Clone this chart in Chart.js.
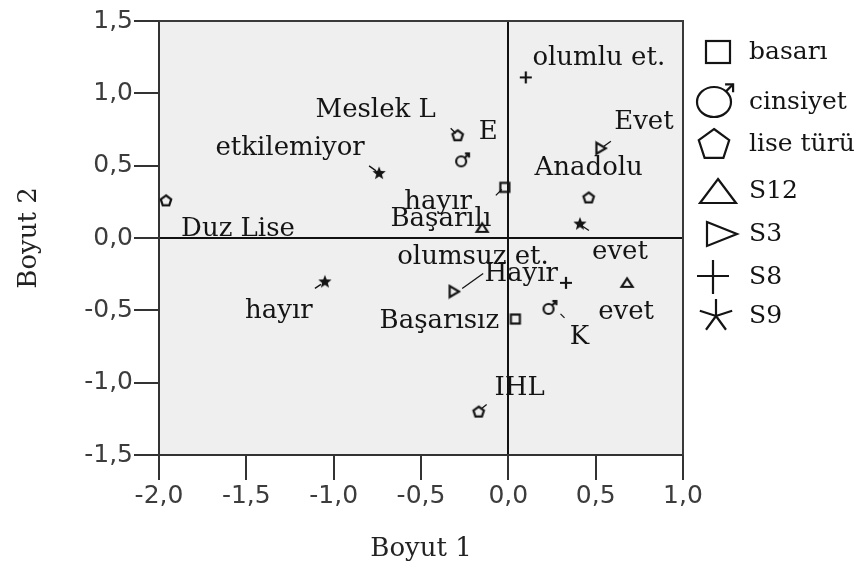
<!DOCTYPE html>
<html>
<head>
<meta charset="utf-8">
<script src="https://cdn.jsdelivr.net/npm/chart.js@4.4.1/dist/chart.umd.min.js"></script>
<style>
  html, body { margin: 0; padding: 0; background: #ffffff; }
  #wrap { width: 864px; height: 567px; }
</style>
</head>
<body>
<div id="wrap"><canvas id="c" width="864" height="567"></canvas></div>
<script>
// Category points (Boyut 1, Boyut 2) for each variable
const basariCats = ['Başarılı', 'Başarısız'];
const basariX = [-0.02, 0.04];
const basariY = [0.35, -0.56];

const cinsiyetCats = ['E', 'K'];
const cinsiyetX = [-0.27, 0.23];
const cinsiyetY = [0.53, -0.49];

const liseCats = ['Meslek L', 'Duz Lise', 'Anadolu', 'IHL'];
const liseX = [-0.29, -1.96, 0.46, -0.17];
const liseY = [0.71, 0.26, 0.28, -1.20];

const s12Cats = ['hayır', 'evet'];
const s12X = [-0.15, 0.68];
const s12Y = [0.07, -0.31];

const s3Cats = ['Evet', 'Hayır'];
const s3X = [0.53, -0.31];
const s3Y = [0.62, -0.37];

const s8Cats = ['olumlu et.', 'olumsuz et.'];
const s8X = [0.10, 0.33];
const s8Y = [1.11, -0.31];

const s9Cats = ['etkilemiyor', 'hayır', 'evet'];
const s9X = [-0.74, -1.05, 0.41];
const s9Y = [0.45, -0.30, 0.10];

const seriesNames = ['basarı', 'cinsiyet', 'lise türü', 'S12', 'S3', 'S8', 'S9'];
const xTickValues = [-2.0, -1.5, -1.0, -0.5, 0.0, 0.5, 1.0];
const yTickValues = [-1.5, -1.0, -0.5, 0.0, 0.5, 1.0, 1.5];

// Label placement: text centre offset from the marker (px) and optional leader line
const labelOffsets = [
  [[-64, 32], [-76, 2]],
  [[27, -29], [31, 28]],
  [[-82, -25], [72, 29], [0, -29], [41, -23]],
  [[-44, -26], [-1, 29]],
  [[43, -26], [67, -17]],
  [[73, -19], [-93, -26]],
  [[-89, -25], [-46, 30], [40, 29]]
];
const leaderLines = [
  [[-9, 8, -3, 2], null],
  [null, [12, 5, 16, 9]],
  [[-7, -7, -2, -2], null, null, [3, -3, 8, -7]],
  [null, null],
  [[3, -2, 10, -7], [8, -3, 29, -18]],
  [null, null],
  [[-10, -7, -3, -2], [-10, 7, -4, 3], [3, 3, 9, 7]]
];

const INK = '#141414';
const SERIF = '"DejaVu Serif", "Liberation Serif", serif';
const SANS = '"DejaVu Sans", Verdana, sans-serif';

function makeCanvas(w, h, draw) {
  const c = document.createElement('canvas');
  c.width = w; c.height = h;
  const g = c.getContext('2d');
  g.strokeStyle = INK; g.fillStyle = INK;
  g.lineJoin = 'miter'; g.lineCap = 'butt';
  draw(g, w, h);
  return c;
}
function polygon(g, cx, cy, r, n, start) {
  g.beginPath();
  for (let i = 0; i < n; i++) {
    const a = start + i * 2 * Math.PI / n;
    const px = cx + r * Math.cos(a), py = cy + r * Math.sin(a);
    if (i === 0) g.moveTo(px, py); else g.lineTo(px, py);
  }
  g.closePath();
}
function maleSymbol(g, cx, cy, rx, ry, len, head, lw) {
  g.lineWidth = lw;
  g.beginPath(); g.ellipse(cx, cy, rx, ry, 0, 0, 2 * Math.PI); g.stroke();
  const a = -Math.PI / 4;
  const sx = cx + rx * Math.cos(a), sy = cy + ry * Math.sin(a);
  const ex = sx + len * Math.cos(a), ey = sy + len * Math.sin(a);
  g.beginPath(); g.moveTo(sx, sy); g.lineTo(ex, ey); g.stroke();
  g.beginPath(); g.moveTo(ex - head, ey); g.lineTo(ex, ey); g.lineTo(ex, ey + head); g.stroke();
}

// Small markers drawn inside the plot
const markSmall = [
  makeCanvas(14, 14, g => { g.lineWidth = 2.2; g.strokeRect(2.5, 2.5, 9, 9); }),
  makeCanvas(24, 24, g => maleSymbol(g, 12, 12, 5, 5, 6, 4, 2.2)),
  makeCanvas(16, 16, g => { g.lineWidth = 2.2; polygon(g, 8, 8.5, 5.5, 5, -Math.PI / 2); g.stroke(); }),
  makeCanvas(16, 14, g => { g.lineWidth = 2.2; g.beginPath(); g.moveTo(8, 2.5); g.lineTo(13.5, 11); g.lineTo(2.5, 11); g.closePath(); g.stroke(); }),
  makeCanvas(14, 16, g => { g.lineWidth = 2.2; g.beginPath(); g.moveTo(2.5, 2.5); g.lineTo(12, 8); g.lineTo(2.5, 13.5); g.closePath(); g.stroke(); }),
  makeCanvas(16, 16, g => { g.lineWidth = 2.2; g.beginPath(); g.moveTo(2, 8); g.lineTo(14, 8); g.moveTo(8, 2); g.lineTo(8, 14); g.stroke(); }),
  makeCanvas(16, 16, g => {
    g.beginPath();
    for (let i = 0; i < 10; i++) {
      const r = i % 2 === 0 ? 7 : 3;
      const a = -Math.PI / 2 + i * Math.PI / 5;
      const px = 8 + r * Math.cos(a), py = 8.5 + r * Math.sin(a);
      if (i === 0) g.moveTo(px, py); else g.lineTo(px, py);
    }
    g.closePath(); g.fill();
  })
];

// Large markers for the key on the right
const markLarge = [
  makeCanvas(30, 28, g => { g.lineWidth = 2.2; g.strokeRect(3, 3, 24, 22); }),
  makeCanvas(60, 60, g => maleSymbol(g, 26, 34, 17, 15, 10, 8, 2.2)),
  makeCanvas(38, 38, g => { g.lineWidth = 2.2; polygon(g, 19, 20, 16, 5, -Math.PI / 2); g.stroke(); }),
  makeCanvas(42, 30, g => { g.lineWidth = 2.2; g.beginPath(); g.moveTo(21, 3); g.lineTo(39, 27); g.lineTo(3, 27); g.closePath(); g.stroke(); }),
  makeCanvas(36, 30, g => { g.lineWidth = 2.2; g.beginPath(); g.moveTo(3, 3); g.lineTo(33, 15); g.lineTo(3, 27); g.closePath(); g.stroke(); }),
  makeCanvas(36, 36, g => { g.lineWidth = 2.2; g.beginPath(); g.moveTo(2, 17); g.lineTo(34, 17); g.moveTo(18, 1); g.lineTo(18, 35); g.stroke(); }),
  makeCanvas(38, 38, g => {
    g.lineWidth = 2.2; g.beginPath();
    for (let i = 0; i < 5; i++) {
      const a = -Math.PI / 2 + i * 2 * Math.PI / 5;
      g.moveTo(19, 19); g.lineTo(19 + 17 * Math.cos(a), 19 + 17 * Math.sin(a));
    }
    g.stroke();
  })
];

function pts(xs, ys) { return xs.map((x, i) => ({ x: x, y: ys[i] })); }
const seriesX = [basariX, cinsiyetX, liseX, s12X, s3X, s8X, s9X];
const seriesY = [basariY, cinsiyetY, liseY, s12Y, s3Y, s8Y, s9Y];
const seriesCats = [basariCats, cinsiyetCats, liseCats, s12Cats, s3Cats, s8Cats, s9Cats];

const datasets = seriesNames.map((name, i) => ({
  label: name,
  data: pts(seriesX[i], seriesY[i]),
  pointStyle: markSmall[i],
  pointRadius: 6,
  pointHoverRadius: 6,
  showLine: false
}));

const fmt = v => v.toFixed(1).replace('.', ',');

// Grey plot panel with a frame
const panelPlugin = {
  id: 'panel',
  beforeDraw(chart) {
    const { ctx, chartArea: a } = chart;
    ctx.save();
    ctx.fillStyle = '#efefef';
    ctx.fillRect(a.left, a.top, a.right - a.left, a.bottom - a.top);
    ctx.restore();
  },
  afterDraw(chart) {
    const { ctx, chartArea: a } = chart;
    ctx.save();
    ctx.strokeStyle = '#3a3a3a';
    ctx.lineWidth = 2;
    ctx.beginPath();
    ctx.moveTo(a.left, a.top); ctx.lineTo(a.right, a.top); ctx.lineTo(a.right, a.bottom);
    ctx.stroke();
    ctx.restore();
  }
};

// Category names beside each marker
const labelPlugin = {
  id: 'catLabels',
  afterDatasetsDraw(chart) {
    const { ctx } = chart;
    const xs = chart.scales.x, ys = chart.scales.y;
    ctx.save();
    ctx.font = '26px ' + SERIF;
    ctx.fillStyle = INK;
    ctx.strokeStyle = INK;
    ctx.lineWidth = 1.3;
    ctx.textAlign = 'center';
    ctx.textBaseline = 'middle';
    chart.data.datasets.forEach((ds, di) => {
      ds.data.forEach((p, pi) => {
        const px = xs.getPixelForValue(p.x), py = ys.getPixelForValue(p.y);
        const ld = leaderLines[di][pi];
        if (ld) {
          ctx.beginPath();
          ctx.moveTo(px + ld[0], py + ld[1]);
          ctx.lineTo(px + ld[2], py + ld[3]);
          ctx.stroke();
        }
        const off = labelOffsets[di][pi];
        ctx.fillText(seriesCats[di][pi], px + off[0], py + off[1]);
      });
    });
    ctx.restore();
  }
};

// Key of marker shapes on the right
const keyRows = [52, 102, 144, 191, 234, 277, 316];
const keyMarkX = [718, 714, 714, 718, 722, 713, 716];
const keyPlugin = {
  id: 'shapeKey',
  afterDraw(chart) {
    const { ctx } = chart;
    ctx.save();
    ctx.font = '25px ' + SERIF;
    ctx.fillStyle = INK;
    ctx.textAlign = 'left';
    ctx.textBaseline = 'middle';
    chart.data.datasets.forEach((ds, i) => {
      const m = markLarge[i];
      const cx = keyMarkX[i], cy = keyRows[i];
      if (i === 1) { ctx.drawImage(m, cx - 26, cy - 34); }
      else { ctx.drawImage(m, Math.round(cx - m.width / 2), Math.round(cy - m.height / 2)); }
      ctx.fillText(ds.label, 749, cy);
    });
    ctx.restore();
  }
};

const axisCommon = (ticksList, title, titlePad) => ({
  type: 'linear',
  min: ticksList[0],
  max: ticksList[ticksList.length - 1],
  afterBuildTicks: scale => { scale.ticks = ticksList.map(v => ({ value: v })); },
  ticks: {
    callback: v => fmt(v),
    font: { family: SANS, size: 25 },
    color: '#3c3c3c',
    padding: 1,
    autoSkip: false,
    maxRotation: 0
  },
  grid: {
    drawOnChartArea: true,
    color: c => (c.tick && c.tick.value === 0 ? '#111111' : 'rgba(0,0,0,0)'),
    lineWidth: 2,
    tickColor: '#333333',
    tickLength: 25,
    tickWidth: 2
  },
  border: { display: true, color: '#333333', width: 2 },
  title: {
    display: true,
    text: title,
    font: { family: SERIF, size: 26 },
    color: '#222222',
    padding: titlePad
  }
});

const xAxis = axisCommon(xTickValues, 'Boyut 1', { top: 0, bottom: 2 });
xAxis.afterFit = s => { s.height = 112; };
const yAxis = axisCommon(yTickValues, 'Boyut 2', { top: 14, bottom: 0 });
yAxis.afterFit = s => { s.width = 159; };

new Chart(document.getElementById('c'), {
  type: 'scatter',
  data: { datasets: datasets },
  options: {
    responsive: false,
    animation: false,
    layout: { padding: { top: 21, right: 181, bottom: 0, left: 0 } },
    plugins: {
      legend: { display: false },
      tooltip: { enabled: false }
    },
    scales: { x: xAxis, y: yAxis }
  },
  plugins: [panelPlugin, labelPlugin, keyPlugin]
});
</script>
</body>
</html>
